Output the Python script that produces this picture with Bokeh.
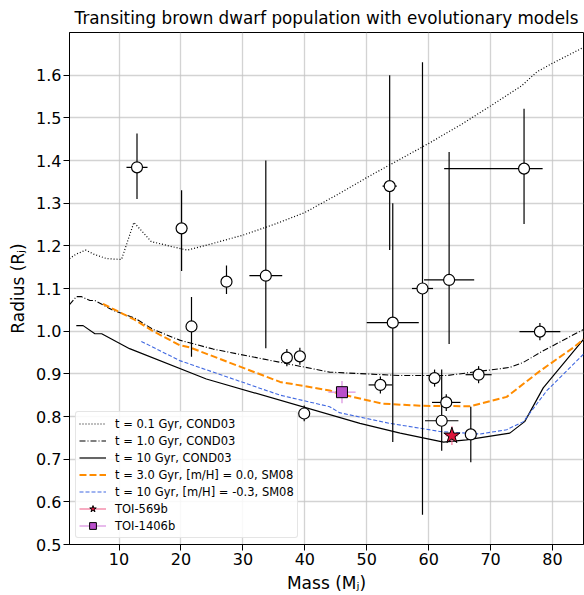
import numpy as np
from bokeh.plotting import figure
from bokeh.models import Legend, LegendItem, FixedTicker, Range1d
from bokeh.embed import file_html
from bokeh.resources import INLINE

# ---- evolutionary models ----
cond01_mass = [2.0, 3.0, 4.6, 6.0, 8.0, 10.4, 12.4, 15.2, 18.0, 21.0, 25.0, 30.0, 35.0, 40.0, 45.0, 50.0, 55.0, 60.0, 65.0, 70.0, 75.0, 77.5, 80.0, 85.0]
cond01_rad = [1.170, 1.180, 1.190, 1.180, 1.170, 1.168, 1.255, 1.210, 1.200, 1.190, 1.205, 1.225, 1.250, 1.278, 1.318, 1.360, 1.400, 1.440, 1.482, 1.528, 1.575, 1.608, 1.628, 1.665]

cond1_mass = [2.0, 3.1, 3.9, 5.3, 6.1, 9.0, 12.5, 15.5, 19.8, 25.2, 36.0, 44.0, 55.4, 62.9, 73.1, 75.3, 78.5, 85.0]
cond1_rad = [1.062, 1.081, 1.081, 1.072, 1.072, 1.049, 1.031, 1.004, 0.979, 0.958, 0.927, 0.904, 0.896, 0.896, 0.915, 0.927, 0.954, 1.004]

cond10_mass = [3.1, 4.2, 6.1, 7.2, 9.6, 11.7, 24.1, 48.9, 55.4, 62.4, 66.1, 73.1, 75.5, 78.5, 85.0]
cond10_rad = [1.013, 1.013, 0.994, 0.994, 0.975, 0.959, 0.888, 0.784, 0.761, 0.740, 0.745, 0.761, 0.788, 0.867, 0.981]

sm08_3_mass = [7.4, 12.5, 15.5, 19.8, 21.4, 36.0, 44.0, 45.6, 52.6, 59.1, 66.7, 72.6, 78.0, 83.4, 85.0]
sm08_3_rad = [1.064, 1.027, 1.000, 0.967, 0.962, 0.881, 0.861, 0.853, 0.830, 0.825, 0.824, 0.846, 0.907, 0.962, 0.981]

sm08_10_mass = [13.6, 19.8, 36.0, 44.0, 45.6, 53.7, 61.8, 68.3, 72.6, 75.3, 79.1, 85.0]
sm08_10_rad = [0.976, 0.931, 0.850, 0.823, 0.809, 0.784, 0.765, 0.759, 0.769, 0.788, 0.861, 0.946]

# ---- known transiting brown dwarfs ----
bd_mass = [12.9, 20.1, 21.7, 27.35, 33.7, 37.1, 39.2, 39.9, 52.2, 53.7, 54.2, 59.0, 60.95, 62.1, 62.84, 63.3, 66.8, 68.06, 75.4, 77.96]
bd_mass_lo = [1.7, 0.9, 0.4, 0.4, 2.65, 0.6, 0.8, 0.5, 1.9, 1.15, 4.2, 1.7, 0.5, 2.7, 2.3, 4.05, 0.6, 2.1, 12.9, 3.3]
bd_mass_hi = [1.7, 0.9, 0.4, 0.4, 2.65, 0.6, 0.8, 0.5, 1.9, 1.15, 4.2, 1.7, 0.5, 2.7, 2.3, 4.05, 0.6, 2.1, 3.0, 3.3]
bd_rad = [1.384, 1.241, 1.011, 1.116, 1.130, 0.938, 0.941, 0.807, 0.874, 1.340, 1.020, 1.100, 0.890, 0.790, 0.833, 1.120, 0.758, 0.898, 1.381, 0.999]
bd_rad_lo = [0.074, 0.100, 0.071, 0.029, 0.170, 0.020, 0.020, 0.018, 0.020, 0.150, 0.280, 0.530, 0.020, 0.070, 0.020, 0.150, 0.065, 0.020, 0.130, 0.020]
bd_rad_hi = [0.079, 0.089, 0.069, 0.038, 0.270, 0.020, 0.020, 0.019, 0.020, 0.260, 0.280, 0.530, 0.020, 0.120, 0.019, 0.300, 0.065, 0.020, 0.140, 0.020]

# ---- new objects ----
toi569_mass = [63.75]
toi569_mass_err = [1.0]
toi569_rad = [0.755]
toi569_rad_err = [0.022]

toi1406_mass = [46.0]
toi1406_mass_err = [2.2]
toi1406_rad = [0.857]
toi1406_rad_err = [0.026]

x_ticks = [10, 20, 30, 40, 50, 60, 70, 80]
y_ticks = [0.5, 0.6, 0.7, 0.8, 0.9, 1.0, 1.1, 1.2, 1.3, 1.4, 1.5, 1.6]
y_tick_labels = ["0.5", "0.6", "0.7", "0.8", "0.9", "1.0", "1.1", "1.2", "1.3", "1.4", "1.5", "1.6"]

FONT = "DejaVu Sans"

p = figure(width=584, height=595, x_range=Range1d(2, 85), y_range=Range1d(0.5, 1.7),
           output_backend="svg", toolbar_location=None,
           title="Transiting brown dwarf population with evolutionary models")
p.min_border_left = 69
p.min_border_right = 1
p.min_border_top = 29
p.min_border_bottom = 47
p.outline_line_color = "black"
p.outline_line_width = 1
p.background_fill_color = "white"
p.border_fill_color = "white"

p.title.text_font = FONT
p.title.text_font_size = "16.8px"
p.title.text_font_style = "normal"
p.title.align = "center"
p.title.text_color = "black"

for ax in (p.xaxis[0], p.yaxis[0]):
    ax.axis_label_text_font = FONT
    ax.axis_label_text_font_size = "17px"
    ax.axis_label_text_font_style = "normal"
    ax.axis_label_text_color = "black"
    ax.major_label_text_font = FONT
    ax.major_label_text_font_size = "16px"
    ax.major_label_text_color = "black"
    ax.major_tick_out = 6
    ax.major_tick_in = 0
    ax.minor_tick_out = 0
    ax.minor_tick_in = 0
    ax.major_label_standoff = 2
    ax.axis_label_standoff = 5
    ax.axis_line_color = "black"
    ax.major_tick_line_color = "black"

p.xaxis.axis_label = "Mass (M\u2C7C)"
p.yaxis.axis_label = "Radius (R\u2C7C)"
p.xaxis.ticker = FixedTicker(ticks=x_ticks)
p.yaxis.ticker = FixedTicker(ticks=y_ticks)
p.yaxis.major_label_overrides = {t: s for t, s in zip(y_ticks, y_tick_labels)}

p.grid.grid_line_color = "#c4c4c4"
p.grid.grid_line_alpha = 0.75
p.grid.grid_line_width = 1.3
p.xgrid.ticker = FixedTicker(ticks=x_ticks)
p.ygrid.ticker = FixedTicker(ticks=y_ticks)

# model curves
r1 = p.line(cond01_mass, cond01_rad, line_color="black", line_width=1.2, line_dash="1 2")
r2 = p.line(cond1_mass, cond1_rad, line_color="black", line_width=1.1, line_dash="6 2 1 2")
r3 = p.line(cond10_mass, cond10_rad, line_color="black", line_width=1.2)
r4 = p.line(sm08_3_mass, sm08_3_rad, line_color="#FF8C00", line_width=2, line_dash="7 3")
r5 = p.line(sm08_10_mass, sm08_10_rad, line_color="#4169E1", line_width=1.1, line_dash="4 2")

# error bars of the population
m = np.array(bd_mass); r = np.array(bd_rad)
p.segment(m - np.array(bd_mass_lo), r, m + np.array(bd_mass_hi), r, line_color="black", line_width=1.2)
p.segment(m, r - np.array(bd_rad_lo), m, r + np.array(bd_rad_hi), line_color="black", line_width=1.2)
p.scatter(bd_mass, bd_rad, marker="circle", size=11, fill_color="white", line_color="black", line_width=1.2)

# TOI-569b
tm = np.array(toi569_mass); tr = np.array(toi569_rad)
e569x = p.segment(tm - np.array(toi569_mass_err), tr, tm + np.array(toi569_mass_err), tr,
                  line_color="#F0608A", line_width=1.5, line_alpha=0.7)
p.segment(tm, tr - np.array(toi569_rad_err), tm, tr + np.array(toi569_rad_err),
          line_color="#F0608A", line_width=1.5, line_alpha=0.7)
s569 = p.scatter(toi569_mass, toi569_rad, marker="star", size=17, fill_color="#DC143C",
                 line_color="black", line_width=1)

# TOI-1406b
qm = np.array(toi1406_mass); qr = np.array(toi1406_rad)
e1406x = p.segment(qm - np.array(toi1406_mass_err), qr, qm + np.array(toi1406_mass_err), qr,
                   line_color="#D98FE0", line_width=1.5, line_alpha=0.8)
p.segment(qm, qr - np.array(toi1406_rad_err), qm, qr + np.array(toi1406_rad_err),
          line_color="#D98FE0", line_width=1.5, line_alpha=0.8)
s1406 = p.scatter(toi1406_mass, toi1406_rad, marker="square", size=11, fill_color="#B94FCB",
                  line_color="black", line_width=1)

legend = Legend(items=[
    LegendItem(label="t = 0.1 Gyr, COND03", renderers=[r1]),
    LegendItem(label="t = 1.0 Gyr, COND03", renderers=[r2]),
    LegendItem(label="t = 10 Gyr, COND03", renderers=[r3]),
    LegendItem(label="t = 3.0 Gyr, [m/H] = 0.0, SM08", renderers=[r4]),
    LegendItem(label="t = 10 Gyr, [m/H] = -0.3, SM08", renderers=[r5]),
    LegendItem(label="TOI-569b", renderers=[e569x, s569]),
    LegendItem(label="TOI-1406b", renderers=[e1406x, s1406]),
], location="bottom_left")
legend.margin = 6
legend.padding = 3
legend.spacing = 0
legend.glyph_height = 17
legend.label_height = 17
legend.glyph_width = 27
legend.label_standoff = 9
legend.label_text_font = FONT
legend.label_text_font_size = "11.5px"
legend.label_text_color = "black"
legend.border_line_color = "#cccccc"
legend.border_line_width = 1
legend.border_radius = 3
legend.background_fill_alpha = 0.85
p.add_layout(legend, "center")

open("out.html", "w").write(file_html(p, INLINE))
